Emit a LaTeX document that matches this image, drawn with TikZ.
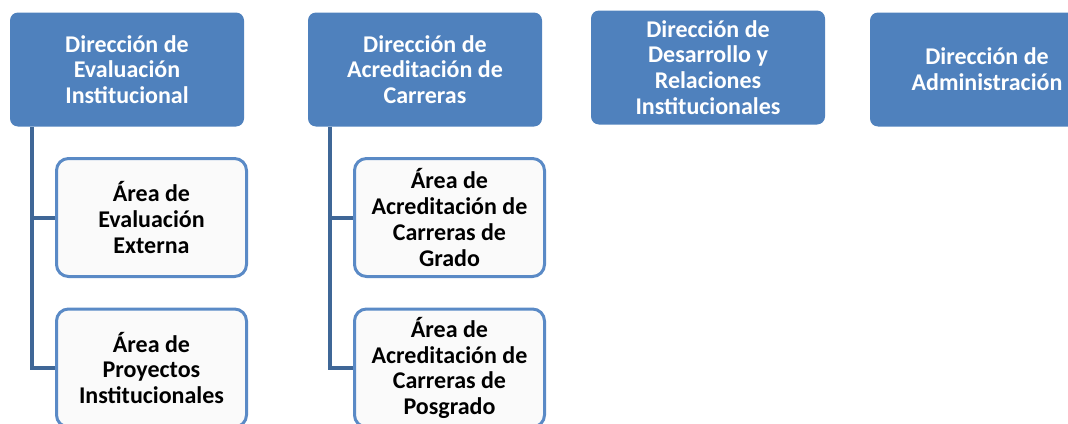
\documentclass[tikz,border=0pt]{standalone}
\usepackage{fontspec}
\setmainfont{Carlito}
\usetikzlibrary{positioning}
\definecolor{dirblue}{HTML}{4F81BD}
\definecolor{arealine}{HTML}{5A8AC6}
\definecolor{connblue}{HTML}{3F6797}

\begin{document}
\begin{tikzpicture}[x=1pt,y=-1pt,on grid,
    dir/.style={rectangle, rounded corners=8pt, fill=dirblue, text=white,
      minimum width=234pt, minimum height=114pt, inner sep=0pt, align=center,
      font=\fontsize{24}{25.8}\selectfont\bfseries},
    area/.style={rectangle, rounded corners=12pt, draw=arealine, line width=3pt,
      fill=black!2, minimum width=190pt, minimum height=118pt, inner sep=0pt,
      align=center, font=\fontsize{24}{25.8}\selectfont\bfseries},
    conn/.style={draw=connblue, line width=4pt}]

        \useasboundingbox (0,0) rectangle (1068,423);
        \clip (0,0) rectangle (1068,423);

        \node[dir] (d_0) at (127,69.5) {Dirección de\\ Evaluación\\ Institucional};
        \node[dir] (d_1) [right=298pt of d_0] {Dirección de\\ Acreditación de\\ Carreras};
        \node[dir] (d_2) [right=283pt of d_1, yshift=2pt] {Dirección de\\ Desarrollo y\\ Relaciones\\ Institucionales};
        \node[dir] (d_3) [right=562pt of d_1] {Dirección de\\ Administración};

        \node[area] (a_00) [below right=148pt and 24.5pt of d_0] {Área de\\ Evaluación\\ Externa};
        \node[area] (a_01) [below=150.5pt of a_00] {Área de\\ Proyectos\\ Institucionales};

        \node[area] (a_10) [below right=148pt and 24.5pt of d_1] {Área de\\ Acreditación de\\ Carreras de\\ Grado};
        \node[area] (a_11) [below=150.5pt of a_10] {Área de\\ Acreditación de\\ Carreras de\\ Posgrado};

        \draw[conn] ([xshift=22pt]d_0.south west) |- (a_01.west);
        \draw[conn] ([xshift=22pt]d_0.south west |- a_00.west) -- (a_00.west);

        \draw[conn] ([xshift=22pt]d_1.south west) |- (a_11.west);
        \draw[conn] ([xshift=22pt]d_1.south west |- a_10.west) -- (a_10.west);
\end{tikzpicture}
\end{document}
